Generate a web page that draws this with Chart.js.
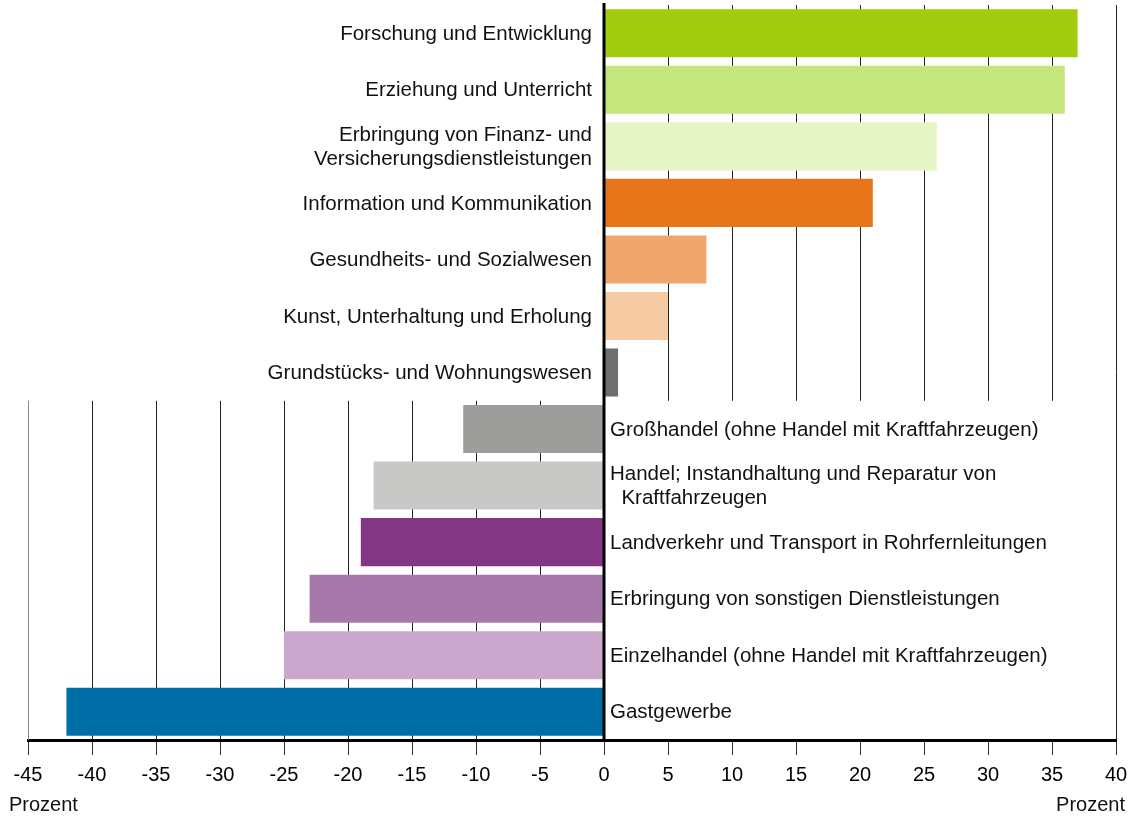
<!DOCTYPE html>
<html>
<head>
<meta charset="utf-8">
<script src="https://cdn.jsdelivr.net/npm/chart.js@4"></script>
<style>
  html, body { margin: 0; padding: 0; background: #fff; }
  #wrap { width: 1133px; height: 816px; }
</style>
</head>
<body>
<div id="wrap"><canvas id="barChart"></canvas></div>
<script>
// Data for the chart
const branchNames = [
    'Forschung und Entwicklung',
    'Erziehung und Unterricht',
    ['Erbringung von Finanz- und', 'Versicherungsdienstleistungen'],
    'Information und Kommunikation',
    'Gesundheits- und Sozialwesen',
    'Kunst, Unterhaltung und Erholung',
    'Grundstücks- und Wohnungswesen',
    'Großhandel (ohne Handel mit Kraftfahrzeugen)',
    ['Handel; Instandhaltung und Reparatur von', '  Kraftfahrzeugen'],
    'Landverkehr und Transport in Rohrfernleitungen',
    'Erbringung von sonstigen Dienstleistungen',
    'Einzelhandel (ohne Handel mit Kraftfahrzeugen)',
    'Gastgewerbe'
];
const changeValues = [37, 36, 26, 21, 8, 5, 1.1, -11, -18, -19, -23, -25, -42]; // Prozent
const barColors = [
    '#a2cd0f', '#c5e67a', '#e5f5c5',
    '#e67619', '#f0a56c', '#f6caa3',
    '#6f6f6e', '#9d9d9c', '#c8c8c7',
    '#833684', '#a778ab', '#caa8cd',
    '#006ea6'
];
const xTicks = { min: -45, max: 40, step: 5 };
const unitLabel = 'Prozent';

const fontFamily = '"Liberation Sans", Arial, sans-serif';

// grid lines only where no labels sit, zero line, labels and units
const customDraw = {
    id: 'customDraw',
    beforeDatasetsDraw(chart) {
        const ctx = chart.ctx;
        const area = chart.chartArea;
        const x = chart.scales.x;
        const y = chart.scales.y;
        const split = (y.getPixelForValue(6) + y.getPixelForValue(7)) / 2;
        ctx.save();
        ctx.lineWidth = 1;
        for (let v = xTicks.min; v <= xTicks.max; v += xTicks.step) {
            if (v === 0) continue;
            const px = Math.round(x.getPixelForValue(v)) + 0.5;
            let top = area.top, bottom = area.bottom;
            if (v > 0 && v < xTicks.max) bottom = split;
            if (v < 0) top = split;
            ctx.strokeStyle = v === xTicks.min ? '#8a8a8a' : '#222';
            ctx.beginPath();
            ctx.moveTo(px, top);
            ctx.lineTo(px, bottom);
            ctx.stroke();
        }
        ctx.restore();
    },
    afterDatasetsDraw(chart) {
        const ctx = chart.ctx;
        const area = chart.chartArea;
        const x = chart.scales.x;
        const y = chart.scales.y;
        const zero = x.getPixelForValue(0);
        ctx.save();
        ctx.strokeStyle = '#000';
        ctx.lineWidth = 3;
        ctx.beginPath();
        ctx.moveTo(zero, area.top - 2);
        ctx.lineTo(zero, area.bottom);
        ctx.stroke();

        ctx.font = '20.5px ' + fontFamily;
        ctx.fillStyle = '#111';
        ctx.textBaseline = 'middle';
        const lineH = 24;
        branchNames.forEach((name, i) => {
            const lines = Array.isArray(name) ? name : [name];
            const cy = y.getPixelForValue(i);
            const positive = changeValues[i] >= 0;
            ctx.textAlign = positive ? 'right' : 'left';
            const tx = positive ? zero - 12 : zero + 6;
            lines.forEach((ln, k) => {
                const ly = cy + (k - (lines.length - 1) / 2) * lineH + 1;
                ctx.fillText(ln, tx, ly);
            });
        });

        ctx.font = '20px ' + fontFamily;
        ctx.textAlign = 'left';
        ctx.fillText(unitLabel, 9, 805);
        ctx.textAlign = 'right';
        ctx.fillText(unitLabel, 1125, 805);
        ctx.restore();
    }
};

const barChart = new Chart(document.getElementById('barChart'), {
    type: 'bar',
    data: {
        labels: branchNames,
        datasets: [{
            data: changeValues,
            backgroundColor: barColors,
            borderWidth: 0,
            barPercentage: 0.85,
            categoryPercentage: 1
        }]
    },
    options: {
        indexAxis: 'y',
        responsive: true,
        maintainAspectRatio: false,
        animation: false,
        layout: { padding: { left: 28, right: 17, top: 5, bottom: 21 } },
        plugins: {
            legend: { display: false },
            tooltip: { enabled: false }
        },
        scales: {
            x: {
                min: xTicks.min,
                max: xTicks.max,
                afterFit(scale) {
                    scale.paddingLeft = 0;
                    scale.paddingRight = 0;
                },
                ticks: {
                    stepSize: xTicks.step,
                    color: '#000',
                    padding: 8,
                    font: { family: fontFamily, size: 20 },
                    maxRotation: 0,
                    autoSkip: false
                },
                grid: {
                    drawOnChartArea: false,
                    drawTicks: true,
                    tickLength: 15,
                    color: '#333'
                },
                border: { display: true, color: '#000', width: 3 }
            },
            y: {
                display: false
            }
        }
    },
    plugins: [customDraw]
});
</script>
</body>
</html>
